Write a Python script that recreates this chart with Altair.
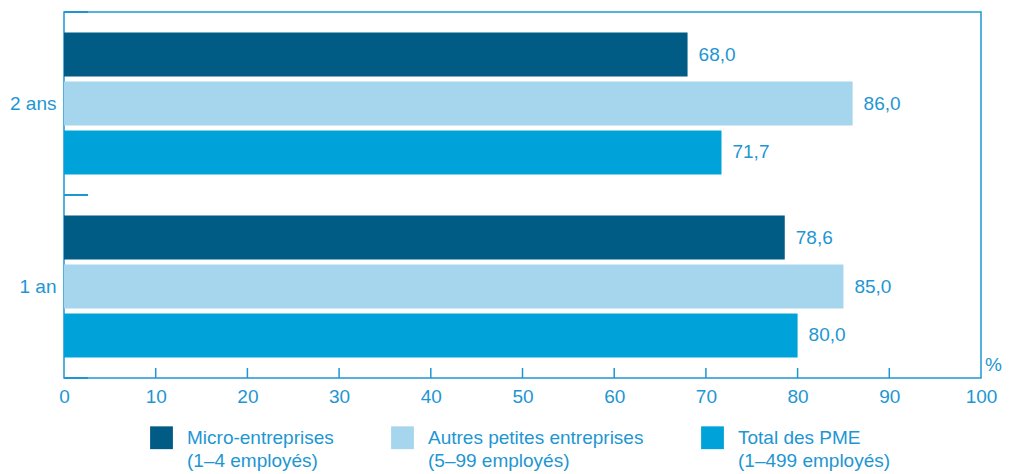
import altair as alt
import pandas as pd

periods = ["2 ans", "1 an"]
series = [
    "Micro-entreprises|(1–4 employés)",
    "Autres petites entreprises|(5–99 employés)",
    "Total des PME|(1–499 employés)",
]
values_2ans = [68.0, 86.0, 71.7]
values_1an = [78.6, 85.0, 80.0]
colors = ["#005B85", "#A6D5EE", "#00A3D9"]
x_ticks = [10, 20, 30, 40, 50, 60, 70, 80, 90]

TEXT = "#1E96D2"
FONT = "Liberation Sans"
FS = 19
W, H = 917, 366

rows = []
for p, vals in zip(periods, [values_2ans, values_1an]):
    for s, v in zip(series, vals):
        rows.append({"period": p, "series": s, "value": v})
df = pd.DataFrame(rows)

base = alt.Chart(df).encode(
    y=alt.Y("period:N", sort=periods, title=None,
            scale=alt.Scale(paddingInner=0, paddingOuter=0),
            axis=alt.Axis(ticks=False, domain=False, labelPadding=8,
                          labelFontSize=FS, labelColor=TEXT, labelFont=FONT)),
    yOffset=alt.YOffset("series:N", sort=series,
                        scale=alt.Scale(paddingInner=0.1, paddingOuter=0.42)),
)

bars = base.mark_bar().encode(
    x=alt.X("value:Q", title=None,
            scale=alt.Scale(domain=[0, 100], nice=False),
            axis=alt.Axis(values=[0] + x_ticks + [100], ticks=False, domain=False,
                          grid=False, labelPadding=9, labelFontSize=FS,
                          labelFlush=False,
                          labelColor=TEXT, labelFont=FONT)),
    color=alt.Color("series:N", sort=series,
                    scale=alt.Scale(domain=series, range=colors),
                    legend=alt.Legend(title=None, orient="none", legendX=86, legendY=414,
                                      direction="horizontal", symbolType="square",
                                      symbolSize=520, symbolStrokeWidth=0,
                                      labelExpr="split(datum.label, '|')",
                                      labelFontSize=FS, labelColor=TEXT, labelFont=FONT,
                                      labelOffset=14, labelBaseline="middle",
                                      columnPadding=57, labelLimit=400)),
)

labels = base.transform_calculate(
    lbl="replace(format(datum.value, '.1f'), '.', ',')"
).mark_text(align="left", baseline="middle", dx=11, fontSize=FS,
            color=TEXT, font=FONT).encode(
    x="value:Q",
    text="lbl:N",
)

tick_df = pd.DataFrame({"t": x_ticks})
xticks = alt.Chart(tick_df).mark_rule(color=TEXT, strokeWidth=1.5).encode(
    x="t:Q", y=alt.value(H - 10), y2=alt.value(H)
)

per_df = pd.DataFrame({"period": periods})
yticks_start = alt.Chart(per_df).mark_rule(color=TEXT, strokeWidth=2).encode(
    y=alt.Y("period:N", sort=periods, bandPosition=0),
    x=alt.value(0), x2=alt.value(24),
)
yticks_end = alt.Chart(per_df).mark_rule(color=TEXT, strokeWidth=2).encode(
    y=alt.Y("period:N", sort=periods, bandPosition=1),
    x=alt.value(0), x2=alt.value(24),
)

pct = alt.Chart(pd.DataFrame({"t": ["%"]})).mark_text(
    fontSize=FS, color=TEXT, font=FONT, align="right", baseline="middle"
).encode(text="t:N", x=alt.value(W + 21), y=alt.value(H - 13))

chart = alt.layer(bars, labels, xticks, yticks_start, yticks_end, pct).properties(
    width=W, height=H,
    autosize=alt.AutoSizeParams(type="none"),
    padding={"left": 56, "top": 4, "right": 22, "bottom": 98},
).configure(
    background="white",
    style={"guide-label": {"lineHeight": 23}},
    view=alt.ViewConfig(stroke=TEXT, strokeWidth=1.5),
)

chart.save("out.html", embed_options={"renderer": "svg", "actions": False})
